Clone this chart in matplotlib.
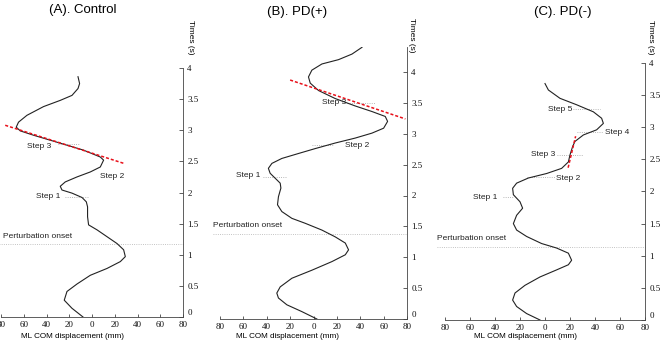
import matplotlib.pyplot as plt
from matplotlib.ticker import FuncFormatter

# ML COM displacement (mm) vs time (s); negative x is drawn on the left side
# (A). Control
t_a = [0.0, 0.14, 0.27, 0.41, 0.53, 0.67, 0.78, 0.89, 0.97, 1.08, 1.18, 1.29, 1.40,
       1.48, 1.61, 1.77, 1.85, 1.92, 1.99, 2.04, 2.10, 2.17, 2.25, 2.33, 2.41, 2.52,
       2.57, 2.68, 2.76, 2.84, 2.92, 2.99, 3.05, 3.13, 3.24, 3.38, 3.48, 3.56, 3.67,
       3.75, 3.86]
x_a = [-7.9, -17.6, -24.4, -22.0, -13.2, -1.5, 13.2, 24.9, 29.3, 27.8, 22.0, 13.2, 4.4,
       -3.0, -3.9, -3.9, -5.0, -8.8, -17.6, -26.4, -27.9, -23.5, -13.2, -1.5, 7.3, 10.2,
       7.3, -7.4, -22.0, -36.7, -51.4, -63.1, -66.6, -64.6, -57.2, -42.6, -27.9, -17.6, -12.3,
       -10.9, -12.3]

# (B). PD(+)
t_b = [0.0, 0.12, 0.23, 0.34, 0.42, 0.52, 0.66, 0.79, 0.93, 1.04, 1.12, 1.23, 1.33,
       1.44, 1.55, 1.63, 1.74, 1.85, 1.98, 2.12, 2.20, 2.28, 2.36, 2.44, 2.52, 2.60,
       2.68, 2.76, 2.85, 2.93, 3.01, 3.09, 3.20, 3.28, 3.36, 3.45, 3.57, 3.70, 3.82,
       3.92, 4.03, 4.13, 4.20, 4.29, 4.40]
x_b = [2.9, -10.0, -22.8, -30.0, -31.4, -28.5, -18.5, -1.4, 15.8, 27.2, 30.0, 27.2, 18.6,
       7.2, -7.1, -18.5, -27.1, -30.8, -30.0, -27.9, -28.5, -32.8, -37.1, -38.6, -35.6, -27.1,
       -12.9, 1.5, 18.6, 35.7, 50.0, 60.0, 63.4, 61.4, 50.0, 35.7, 18.6, 4.3, -2.8,
       -4.3, -1.4, 7.2, 21.4, 32.9, 41.5]

# (C). PD(-)
t_c = [0.0, 0.10, 0.21, 0.31, 0.42, 0.54, 0.67, 0.78, 0.86, 0.93, 1.04, 1.12, 1.19,
       1.30, 1.40, 1.50, 1.63, 1.74, 1.84, 1.95, 2.05, 2.13, 2.21, 2.28, 2.36, 2.46,
       2.57, 2.70, 2.78, 2.88, 2.96, 3.06, 3.14, 3.24, 3.35, 3.45, 3.58, 3.68]
x_c = [-4.0, -14.7, -22.7, -25.9, -24.0, -16.0, -4.0, 9.3, 18.7, 21.3, 18.7, 9.3, -2.7,
       -14.7, -22.7, -25.3, -22.7, -17.9, -20.0, -25.3, -25.9, -22.7, -13.3, 1.3, 13.3, 18.7,
       20.0, 22.1, 24.0, 30.7, 41.3, 46.7, 45.3, 38.7, 25.3, 12.0, 2.7, 0.0]

# perturbation onset times (s)
onset = [1.17, 1.38, 1.14]

# red dashed fit lines: (x0, t0, x1, t1)
fit_a = [-76.3, 3.08, 27.6, 2.47]
fit_b = [-20.0, 3.87, 78.6, 3.24]
fit_c = [18.5, 2.37, 24.5, 2.86]

# step labels: name, text x, text t
steps_a = [("Step 1", -38.5, 1.93), ("Step 2", 17.9, 2.26), ("Step 3", -46.4, 2.74)]
steps_b = [("Step 1", -56.2, 2.32), ("Step 2", 37.2, 2.81), ("Step 3", 17.7, 3.50)]
steps_c = [("Step 1", -47.6, 1.91), ("Step 2", 18.4, 2.21), ("Step 3", -1.2, 2.57),
           ("Step 4", 57.4, 2.92), ("Step 5", 12.0, 3.28)]

# dotted step markers: x0, x1, t
marks_a = [(-23.5, -3.3, 1.92), (-29.6, -10.3, 2.78)]
marks_b = [(-43.0, -22.5, 2.30), (-1.4, 17.1, 2.82), (28.6, 52.9, 3.50)]
marks_c = [(-34.0, -26.0, 1.91), (-14.7, 8.0, 2.23), (9.3, 30.7, 2.57),
           (25.3, 46.7, 2.93), (22.4, 44.0, 3.28)]

titles = ["(A). Control", "(B). PD(+)", "(C). PD(-)"]

W, H = 660, 342
fig = plt.figure(figsize=(W / 100, H / 100), dpi=100)

# axes boxes in pixels: left, right, top, bottom
boxes = [(1, 183, 68, 317), (220, 407, 47.3, 319), (445, 645, 63, 320)]
ytops = [4.0, 4.4, 4.0]
title_xy = [(82.5, 10), (296.7, 12), (562.5, 12)]
times_xy = [(191, 37), (412, 35), (650.5, 37)]
xlab_xy = [(72.5, 336), (288, 336), (526, 337)]

data = [(t_a, x_a, fit_a, steps_a, marks_a),
        (t_b, x_b, fit_b, steps_b, marks_b),
        (t_c, x_c, fit_c, steps_c, marks_c)]

sans = "Liberation Sans"
serif = "Liberation Serif"

for i, (t, x, fit, steps, marks) in enumerate(data):
    l, r, top, b = boxes[i]
    ax = fig.add_axes([l / W, 1 - b / H, (r - l) / W, (b - top) / H])
    ax.set_xlim(-80, 80)
    ax.set_ylim(0, ytops[i])

    ax.plot([-86, 80], [onset[i], onset[i]], color="#b0b0b0", lw=0.6, ls=":", clip_on=False)
    ax.text(-86 if i else -78, onset[i] + 0.07, "Perturbation onset", fontsize=6,
            family=sans, color="#222222", va="bottom", ha="left")

    for x0, x1, tm in marks:
        ax.plot([x0, x1], [tm, tm], color="#a0a0a0", lw=0.6, ls=":")

    ax.plot(x, t, color="#222222", lw=0.8, solid_joinstyle="round")
    ax.plot([fit[0], fit[2]], [fit[1], fit[3]], color="#e8101a", lw=1.1,
            ls=(0, (2, 1.3)), clip_on=False)

    for name, sx, st in steps:
        ax.text(sx, st, name, fontsize=6, family=sans, color="#222222",
                ha="center", va="center")

    for s in ["top", "left"]:
        ax.spines[s].set_visible(False)
    for s in ["bottom", "right"]:
        ax.spines[s].set_linewidth(0.6)
        ax.spines[s].set_color("#444444")
    ax.yaxis.tick_right()
    ax.set_xticks(range(-80, 81, 20))
    ax.set_yticks([v / 2 for v in range(9)])
    ax.xaxis.set_major_formatter(FuncFormatter(lambda v, p: f"{abs(v):g}"))
    ax.yaxis.set_major_formatter(FuncFormatter(lambda v, p: f"{v:g}"))
    ax.tick_params(direction="in", width=0.6, colors="#444444",
                   labelsize=6.5, labelcolor="#111111")
    ax.tick_params(axis="x", length=2, pad=3)
    ax.tick_params(axis="y", length=3, pad=3)
    for lab in ax.get_xticklabels() + ax.get_yticklabels():
        lab.set_family(serif)
    ax.get_yticklabels()[0].set_va("bottom")
    ax.patch.set_visible(False)

    fig.text(title_xy[i][0] / W, 1 - title_xy[i][1] / H, titles[i], fontsize=9.5,
             family=sans, ha="center", va="center")
    fig.text(times_xy[i][0] / W, 1 - times_xy[i][1] / H, "Times (s)", fontsize=6,
             family=sans, rotation=-90, ha="center", va="center")
    fig.text(xlab_xy[i][0] / W, 1 - xlab_xy[i][1] / H, "ML COM displacement (mm)",
             fontsize=5.9, family=sans, ha="center", va="center")

fig.savefig("out.png", dpi=100)
